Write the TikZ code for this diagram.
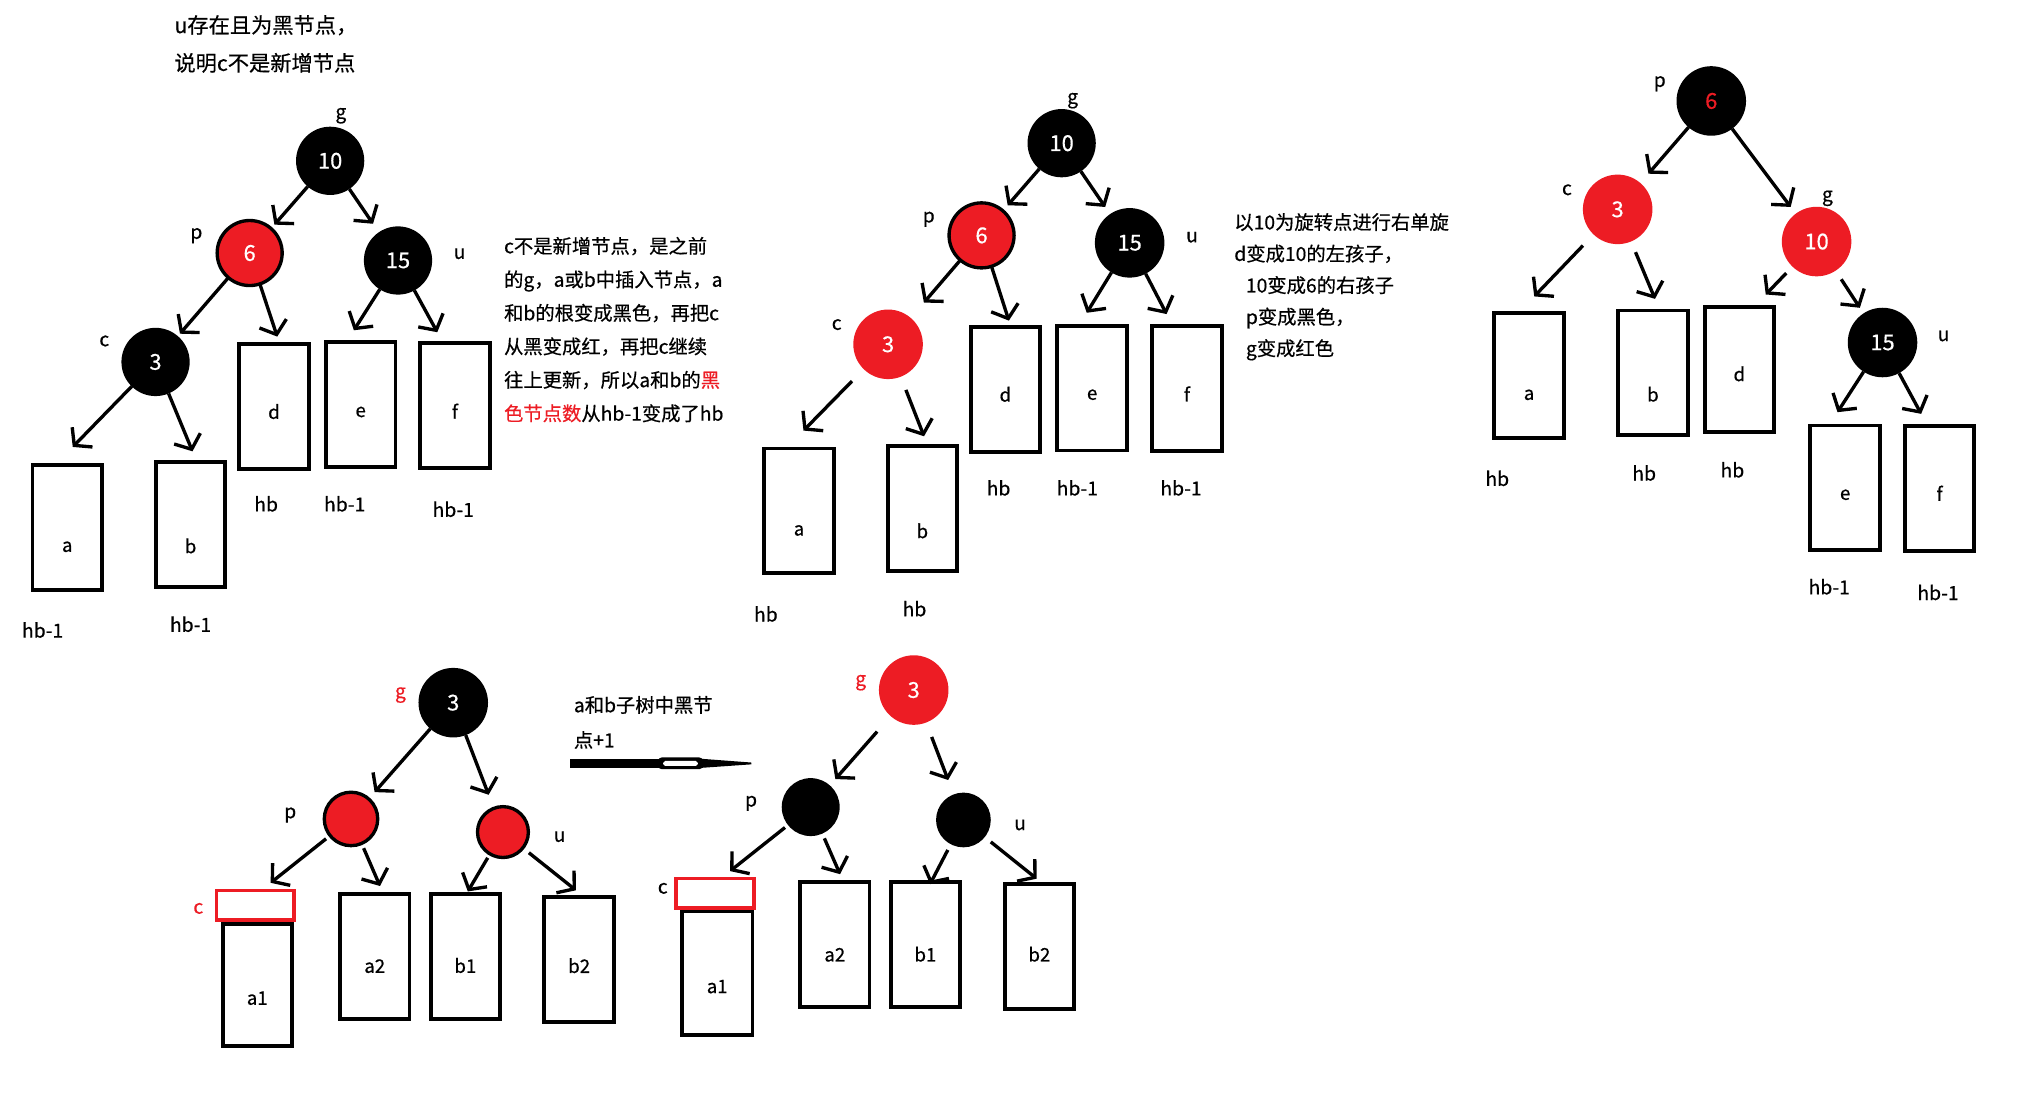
\documentclass[tikz,border=0pt]{standalone}
\usepackage{fontspec}
\setmainfont{Noto Sans CJK SC}[FakeBold=0.5]
\usetikzlibrary{arrows.meta}
\definecolor{myred}{RGB}{237,28,36}
\newcommand\myfs[2]{\fontsize{#1}{#2}\selectfont}
\begin{document}
\begin{tikzpicture}[x=1pt,y=-1pt,
  every node/.style={inner sep=0pt,outer sep=0pt},
  bn/.style={circle,fill=black,text=white,minimum size=53pt,font=\myfs{17}{20}},
  rn/.style={circle,fill=myred,text=white,minimum size=53pt,font=\myfs{17}{20}},
  rbn/.style={rn,draw=black,line width=2.6pt,minimum size=50.5pt},
  tbox/.style={draw,line width=3pt,minimum width=54pt,minimum height=97pt,font=\myfs{14.5}{17}},
  cbox/.style={draw=myred,line width=3pt,minimum width=60.5pt,minimum height=22.6pt},
  th/.style={text height=#1pt},
  lbl/.style={font=\myfs{15}{18}},
  para/.style={align=left,anchor=north west},
  arr/.style={line width=2.6pt,-{Straight Barb[length=9pt,width=22pt]}}]
\fill[white] (0,0) rectangle (1568,862);

% ---------- header text
\node[para,font=\myfs{16.5}{29.4}] (hdr) at (135.5,5.1) {\strut u存在且为黑节点，\\说明c不是新增节点};

% ---------- tree 1
\node[bn] (t1g) at (256.4,124.9) {10};
\node[rbn] (t1p) at (193.9,196.5) {6};
\node[bn] (t1u) at (309.1,202.3) {15};
\node[bn] (t1c) at (120.8,281.1) {3};
\node[lbl] (t1lg) at (264.7,89.9) {g};
\node[lbl] (t1lp) at (152.5,183) {p};
\node[lbl] (t1lu) at (356.9,197.1) {u};
\node[lbl] (t1lc) at (81,264.8) {c};
\node[tbox,th=38.6] (t1a) at (52.2,409.4) {a};
\node[tbox,th=45] (t1b) at (148,407.2) {b};
\node[tbox,th=20] (t1d) at (212.8,315.4) {d};
\node[tbox,th=20] (t1e) at (280.1,314) {e};
\node[tbox,th=21] (t1f) at (353.3,314.7) {f};
\node[lbl] (t1hd) at (206.7,391.3) {hb};
\node[lbl] (t1he) at (267.7,391.3) {hb-1};
\node[lbl] (t1hf) at (352,395.5) {hb-1};
\node[lbl] (t1ha) at (33.1,489.3) {hb-1};
\node[lbl] (t1hb) at (148,484.8) {hb-1};
\draw[arr,shorten >=4pt] (t1g) -- (t1p);
\draw[arr,shorten >=8pt] (t1g) -- (t1u);
\draw[arr,shorten >=2.5pt] (t1p) -- (t1c);
\draw[arr] (t1p) -- ([xshift=2.5pt,yshift=5.5pt]t1d.north);
\draw[arr] (t1u) -- ([xshift=-5.3pt,yshift=9pt]t1e.north);
\draw[arr] (t1u) -- ([xshift=-13.7pt,yshift=8.2pt]t1f.north);
\draw[arr] (t1c) -- ([xshift=4.3pt,yshift=13.8pt]t1a.north);
\draw[arr] (t1c) -- ([xshift=1.5pt,yshift=8.2pt]t1b.north);
\node[para,font=\myfs{15}{26}] (t1txt) at (391.5,178.5) {\strut c不是新增节点，是之前\\的g，a或b中插入节点，a\\和b的根变成黑色，再把c\\从黑变成红，再把c继续\\往上更新，所以a和b的\textcolor{myred}{黑}\\\textcolor{myred}{色节点数}从hb-1变成了hb};

% ---------- tree 2
\node[bn] (t2g) at (824.5,111.2) {10};
\node[rbn] (t2p) at (762.3,182.8) {6};
\node[bn,minimum size=54pt] (t2u) at (877.3,188.6) {15};
\node[rn,minimum size=54pt] (t2c) at (689.7,267.4) {3};
\node[lbl] (t2lg) at (833,78.2) {g};
\node[lbl] (t2lp) at (721.3,170.3) {p};
\node[lbl] (t2lu) at (925.7,184.2) {u};
\node[lbl] (t2lc) at (649.8,252.1) {c};
\node[tbox,th=38.4] (t2a) at (620.5,396.8) {a};
\node[tbox,th=46] (t2b) at (716.3,395) {b};
\node[tbox,th=19] (t2d) at (780.8,302.5) {d};
\node[tbox,th=18.4] (t2e) at (848.2,301.4) {e};
\node[tbox,th=19.6] (t2f) at (921.8,302) {f};
\node[lbl] (t2ha) at (594.8,476.8) {hb};
\node[lbl] (t2hb) at (710.2,472.7) {hb};
\node[lbl] (t2hd) at (775.5,378.9) {hb};
\node[lbl] (t2he) at (836.7,378.9) {hb-1};
\node[lbl] (t2hf) at (917.2,378.9) {hb-1};
\draw[arr,shorten >=5.7pt] (t2g) -- (t2p);
\draw[arr,shorten >=6.7pt] (t2g) -- (t2u);
\draw[arr,shorten >=15.7pt] (t2p) -- (t2c);
\draw[arr] (t2p) -- ([xshift=2.7pt,yshift=5pt]t2d.north);
\draw[arr] (t2u) -- ([xshift=-4.2pt,yshift=10pt]t2e.north);
\draw[arr] (t2u) -- ([xshift=-15.8pt,yshift=9.6pt]t2f.north);
\draw[arr,shorten <=13pt] (t2c) -- ([xshift=3.5pt,yshift=13.9pt]t2a.north);
\draw[arr,shorten <=11pt] (t2c) -- ([xshift=1.3pt,yshift=7.7pt]t2b.north);
\node[para,font=\myfs{15}{24.5}] (t2txt) at (958.6,161) {\strut 以10为旋转点进行右单旋\\d变成10的左孩子，\\\hspace*{9pt}10变成6的右孩子\\\hspace*{9pt}p变成黑色，\\\hspace*{9pt}g变成红色};

% ---------- tree 3
\node[bn,text=myred,minimum size=54pt] (t3p) at (1329,78.4) {6};
\node[rn,minimum size=54pt] (t3c) at (1256.3,162.6) {3};
\node[rn,minimum size=54pt] (t3g) at (1410.8,187.6) {10};
\node[bn,minimum size=54pt] (t3u) at (1462,266) {15};
\node[lbl] (t3lp) at (1289,65) {p};
\node[lbl] (t3lc) at (1216.9,147.4) {c};
\node[lbl] (t3lg) at (1419.2,154) {g};
\node[lbl] (t3lu) at (1509.4,261) {u};
\node[tbox,th=38.4] (t3a) at (1187.5,291.5) {a};
\node[tbox,th=44.6] (t3b) at (1283.7,289.6) {b};
\node[tbox,th=17.8] (t3d) at (1350.8,287.2) {d};
\node[tbox,th=18.8] (t3e) at (1433,378.9) {e};
\node[tbox,th=19] (t3f) at (1506.3,379.4) {f};
\node[lbl] (t3ha) at (1162.8,371.5) {hb};
\node[lbl] (t3hb) at (1276.9,367.3) {hb};
\node[lbl] (t3hd) at (1345.4,364.9) {hb};
\node[lbl] (t3he) at (1420.6,455.7) {hb-1};
\node[lbl] (t3hf) at (1505.1,460.1) {hb-1};
\draw[arr,shorten >=9.6pt] (t3p) -- (t3c);
\draw[arr,shorten >=6.6pt] (t3p) -- (t3g);
\draw[arr,shorten <=8pt,shorten >=5.2pt] (t3g) -- (t3u);
\draw[arr,shorten <=12pt] (t3c) -- ([xshift=4pt,yshift=12.8pt]t3a.north);
\draw[arr,shorten <=9pt] (t3c) -- ([xshift=1.6pt,yshift=9pt]t3b.north);
\draw[arr,shorten <=7pt] (t3g) -- ([xshift=20.5pt,yshift=10pt]t3d.north);
\draw[arr] (t3u) -- ([xshift=-6pt,yshift=10.3pt]t3e.north);
\draw[arr] (t3u) -- ([xshift=-14.3pt,yshift=9.5pt]t3f.north);

% ---------- tree 4
\node[bn,minimum size=54pt] (t4g) at (352,545.7) {3};
\node[rbn,minimum size=41.5pt] (t4p) at (272.6,636) {};
\node[rbn,minimum size=39.5pt] (t4u) at (390.6,646.2) {};
\node[lbl,text=myred] (t4lg) at (311,539.8) {g};
\node[lbl] (t4lp) at (225.4,633) {p};
\node[lbl] (t4lu) at (434.6,649.8) {u};
\node[lbl,text=myred] (t4lc) at (154,705.5) {c};
\node[tbox,th=31,minimum width=53.5pt,minimum height=95.2pt] (t4a1) at (199.8,764.9) {a1};
\node[cbox] (t4c) at (198.4,702.9) {};
\node[tbox,th=26] (t4a2) at (291,742.6) {a2};
\node[tbox,th=26] (t4b1) at (361.4,742.6) {b1};
\node[tbox,th=21.6] (t4b2) at (449.8,744.9) {b2};
\draw[arr,shorten >=7pt] (t4g) -- (t4p);
\draw[arr,shorten >=11.3pt] (t4g) -- (t4u);
\draw[arr,shorten <=4pt] (t4p) -- ([xshift=11.8pt,yshift=6pt]t4c.north);
\draw[arr,shorten <=4pt] (t4p) -- ([xshift=4.1pt,yshift=6pt]t4a2.north);
\draw[arr,shorten <=3.5pt] (t4u) -- ([xshift=1.9pt,yshift=1.8pt]t4b1.north);
\draw[arr,shorten <=6pt] (t4u) -- ([xshift=-2.5pt,yshift=5pt]t4b2.north);

% ---------- middle text and arrow
\node[para,font=\myfs{15}{27.2}] (midtxt) at (445.7,534.1) {\strut a和b子树中黑节\\点+1};
\fill (442.5,589.3) rectangle (513,596.3);
\fill[rounded corners=3pt] (511,588.2) rectangle (546,597.4);
\fill[white,rounded corners=1.5pt] (515,591) rectangle (542,594.8);
\fill (545,589.3) -- (583.6,592.2) -- (583.6,593.6) -- (545,596.3) -- cycle;

% ---------- tree 5
\node[rn,minimum size=54pt] (t5g) at (709.6,535.9) {3};
\node[bn,minimum size=45pt] (t5p) at (629.6,626.8) {};
\node[bn,minimum size=42.5pt] (t5u) at (748.2,636.8) {};
\node[lbl,text=myred] (t5lg) at (668.4,530.2) {g};
\node[lbl] (t5lp) at (583.3,623.9) {p};
\node[lbl] (t5lu) at (792.2,640.7) {u};
\node[lbl] (t5lc) at (514.7,689.9) {c};
\node[tbox,th=31,minimum width=54.7pt,minimum height=96.4pt] (t5a1) at (557,755.9) {a1};
\node[cbox] (t5c) at (555.5,693.6) {};
\node[tbox,th=27] (t5a2) at (648.3,733.3) {a2};
\node[tbox,th=27] (t5b1) at (718.7,733.3) {b1};
\node[tbox,th=23] (t5b2) at (807.2,735.3) {b2};
\draw[arr,shorten <=16pt,shorten >=6.5pt] (t5g) -- (t5p);
\draw[arr,shorten <=12pt,shorten >=12pt] (t5g) -- (t5u);
\draw[arr,shorten <=3pt] (t5p) -- ([xshift=11.5pt,yshift=5.8pt]t5c.north);
\draw[arr,shorten <=4pt] (t5p) -- ([xshift=4.1pt,yshift=5.9pt]t5a2.north);
\draw[arr,shorten <=5pt] (t5u) -- ([xshift=3.6pt,yshift=-1.8pt]t5b1.north);
\draw[arr,shorten <=6pt] (t5u) -- ([xshift=-2.1pt,yshift=4.4pt]t5b2.north);
\end{tikzpicture}
\end{document}
